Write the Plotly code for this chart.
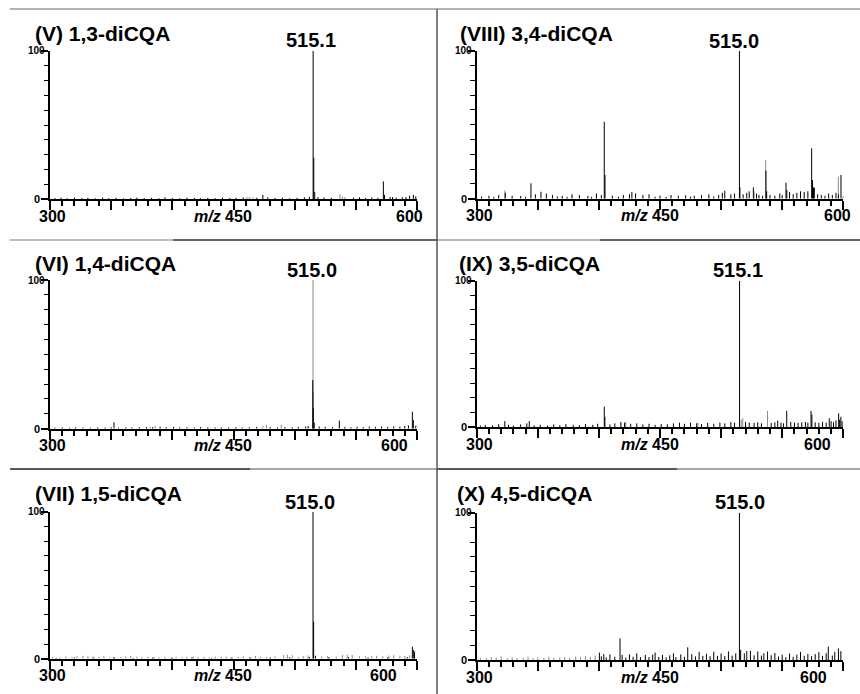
import plotly.graph_objects as go

# ---------------- data ----------------
PANEL_TITLES = ["(V) 1,3-diCQA", "(VIII) 3,4-diCQA", "(VI) 1,4-diCQA",
                "(IX) 3,5-diCQA", "(VII) 1,5-diCQA", "(X) 4,5-diCQA"]
BASE_PEAK_LABELS = ["515.1", "515.0", "515.0", "515.1", "515.0", "515.0"]
X_TICK_LABELS = ["300", "450", "600"]
Y_TICK_LABELS = ["0", "100"]

# (m/z, relative intensity %) — black sticks
V_BLACK = [(515.1, 100), (515.6, 28), (516.4, 5), (572.5, 12), (573.4, 3), (474, 3),
           (594, 2.5), (597, 3), (580, 1.5),
           (304, 0.8), (309, 1.0), (314, 0.7), (320, 1.1), (326, 0.8), (331, 1.0), (337, 0.7),
           (343, 1.2), (348, 0.8), (354, 1.0), (360, 0.7), (366, 0.9), (371, 1.1), (377, 0.8),
           (383, 1.0), (389, 0.7), (394, 1.3), (400, 0.9), (406, 0.8), (412, 1.1), (418, 0.9),
           (423, 0.7), (429, 1.0), (435, 0.8), (441, 1.1), (447, 0.9), (452, 1.0), (458, 1.2),
           (469, 1.0), (478, 1.3), (484, 0.9), (490, 1.1), (496, 0.8), (502, 1.0), (508, 1.3),
           (512, 1.6), (519, 1.5), (524, 1.2), (530, 1.0), (548, 1.1), (553, 1.3), (558, 0.9),
           (563, 1.2), (568, 1.0), (578, 1.6), (583, 1.1), (588, 1.3), (591, 1.5), (599, 2.0)]
V_GREY = [(461, 1.5), (463, 1.5), (466, 1.2), (537, 3.5), (539, 2.0), (541, 1.5)]

VIII_BLACK = [(515.0, 100), (404.4, 52), (405.0, 16), (344.4, 10.4), (352.6, 4.7), (536.7, 19),
              (537.3, 5), (553.1, 10.8), (553.8, 6), (574.1, 34), (574.8, 12.6), (575.6, 7.7),
              (576.3, 7.5), (598.1, 16), (526.4, 7.7), (503, 5.4), (323.4, 4),
              (304, 1.5), (310, 2), (314, 1.2), (318, 2.5), (329, 2), (336, 1.8), (340, 1.2),
              (348, 3), (357, 3.5), (362, 2.5), (366, 1.5), (370, 2), (374, 1.2), (378, 3),
              (384, 2.5), (391, 2), (394, 1.2), (398, 3.5), (402, 2.5), (411, 2), (416, 1.3),
              (420, 2.5), (425, 3), (427, 4.5), (430, 3.5), (436, 2.5), (441, 3), (446, 1.3),
              (450, 2), (455, 1.2), (459, 2.5), (465, 2), (471, 2.3), (475, 1.4), (478, 2),
              (484, 2.5), (490, 3), (494, 1.5), (498, 2.5), (501, 4), (508, 3), (511, 3.5),
              (518, 3), (521, 4), (523, 5), (529, 3.5), (531, 2.5), (534, 2), (540, 2.5),
              (544, 2), (548, 3.5), (550, 2.5), (556, 4.5), (559, 3), (562, 4), (565, 5),
              (568, 4.5), (571, 5), (579, 3), (582, 2.5), (585, 2), (588, 3.5), (591, 2.5),
              (594, 4), (596, 3), (600, 2)]
VIII_GREY = [(515.8, 7.7), (536.5, 26), (595.9, 14.9), (323, 5.5), (527, 5)]

VI_BLACK = [(514.8, 32.7), (515.2, 13.7), (516, 4), (596.2, 11.4), (597, 5.8), (536.5, 5.4),
            (352.3, 4.3),
            (304, 0.7), (310, 0.9), (316, 0.6), (321, 1.0), (327, 0.8), (333, 0.7), (339, 0.9),
            (345, 0.8), (350, 1.0), (356, 0.7), (362, 0.9), (367, 0.8), (373, 1.0), (379, 1.2),
            (384, 1.1), (390, 1.3), (395, 1.0), (401, 1.2), (406, 0.9), (412, 1.0), (418, 0.8),
            (423, 1.1), (429, 0.9), (435, 0.8), (440, 1.0), (446, 0.9), (452, 1.1), (457, 0.8),
            (463, 1.0), (469, 1.2), (480, 1.3), (486, 0.9), (492, 1.1), (498, 1.0), (503, 1.2),
            (509, 1.4), (511, 1.8), (520, 1.5), (525, 1.2), (531, 1.1), (541, 1.2), (546, 1.0),
            (551, 1.3), (556, 1.1), (561, 1.4), (566, 1.2), (571, 1.5), (576, 1.3), (581, 1.6),
            (586, 1.4), (590, 1.8), (593, 2.2), (599, 2.0)]
VI_GREY = [(515.0, 100), (515.4, 25), (382, 1.5), (386, 1.8), (474, 2.0), (477, 2.5), (489, 2.5)]

IX_BLACK = [(515.1, 100), (404.4, 13.9), (404.9, 7), (553.7, 11.1), (573.6, 11), (574.3, 8.5),
            (588.5, 6), (596.2, 9.3), (597, 5), (598, 7), (546.3, 4.4), (323, 4), (343, 4),
            (303, 1), (307, 1.5), (313, 1.2), (318, 2), (326, 1.5), (330, 1), (336, 1.8),
            (341, 2.5), (347, 1.2), (352, 1.5), (358, 1), (363, 1.8), (368, 1.2), (373, 2),
            (379, 1.5), (384, 1.2), (389, 2), (395, 1.5), (399, 2.2), (409, 1.8), (413, 2.5),
            (418, 3.5), (421, 3), (426, 2.2), (431, 2.5), (436, 1.8), (441, 2.2), (446, 1.5),
            (451, 2), (456, 1.8), (461, 2.5), (466, 3), (470, 2.2), (475, 3), (480, 2.5),
            (484, 2), (489, 2.8), (494, 2.2), (499, 3), (503, 2.5), (508, 3.5), (511, 3),
            (520, 3.5), (523, 3), (527, 2.8), (530, 3.2), (533, 2.5), (541, 2.8), (544, 3.2),
            (549, 3), (551, 2.5), (557, 3.5), (560, 3), (563, 2.8), (566, 3.2), (569, 3.5),
            (571, 3), (577, 3.2), (580, 2.8), (583, 3.5), (586, 3), (590, 4), (592, 3.2),
            (594, 4.5), (599, 4)]
IX_GREY = [(538, 11.1), (517.7, 6), (516.5, 5), (422, 3.5), (481, 3.0)]

VII_BLACK = [(515.0, 100), (515.5, 25.2), (596.2, 8.2), (597.3, 5.9), (598, 4.7), (517, 2),
             (305, 0.6), (320, 0.8), (336, 0.7), (352, 0.9), (368, 0.6), (384, 0.8), (400, 0.7),
             (416, 0.9), (432, 0.6), (448, 0.8), (464, 0.7), (480, 0.9), (496, 1.0), (512, 1.2),
             (528, 1.0), (544, 1.1), (560, 0.9), (576, 1.0), (592, 1.2)]
VII_GREY = [(302, 1.2), (308, 1.0), (313, 1.5), (318, 1.1), (322, 1.6), (327, 2.0), (331, 1.8),
            (335, 1.5), (340, 1.2), (344, 1.6), (349, 1.0), (353, 1.3), (358, 1.1), (362, 1.6),
            (366, 2.0), (371, 1.4), (375, 1.1), (380, 1.5), (385, 1.2), (389, 1.0), (394, 1.3),
            (399, 1.1), (403, 1.4), (408, 1.0), (412, 1.2), (417, 1.5), (421, 1.1), (426, 1.3),
            (430, 1.0), (435, 1.4), (440, 1.2), (444, 1.5), (449, 1.1), (454, 1.3), (458, 1.6),
            (463, 1.2), (468, 1.9), (472, 1.4), (477, 1.2), (484, 1.5), (491, 2.5), (494, 2.8),
            (498, 2.4), (503, 1.3), (507, 1.8), (511, 2.2), (522, 1.5), (527, 1.8), (534, 1.4),
            (539, 2.6), (543, 2.7), (547, 2.5), (553, 1.6), (558, 1.5), (563, 1.8), (567, 2.0),
            (572, 1.6), (577, 2.2), (581, 2.4), (586, 2.0), (590, 1.8), (594, 2.3)]

X_BLACK = [(515.0, 100), (417.3, 14.7), (472.7, 8.6), (516, 6.8), (587.7, 9.1), (596, 7.9),
           (446, 5), (400.4, 5), (524, 6.2), (538, 5.7),
           (402, 2.5), (404, 4.0), (406, 1.8), (409, 3.8), (413, 2.2), (419, 3.5), (422, 1.6),
           (425, 3.8), (428, 2.2), (431, 4.6), (434, 1.9), (438, 3.4), (441, 2.0), (444, 3.6),
           (449, 2.1), (452, 3.4), (455, 1.8), (458, 3.2), (461, 4.6), (463, 2.0), (467, 3.8),
           (470, 2.2), (476, 4.0), (479, 2.4), (482, 5.5), (485, 2.8), (488, 4.2), (491, 2.6),
           (494, 5.6), (497, 2.8), (500, 4.4), (503, 2.6), (506, 5.8), (509, 3.0), (512, 4.5),
           (519, 4.5), (521, 6.0), (527, 3.2), (530, 5.8), (533, 3.0), (535, 4.6), (541, 3.2),
           (544, 4.8), (547, 2.4), (550, 3.6), (553, 2.0), (556, 4.4), (559, 2.2), (562, 3.6),
           (565, 5.5), (568, 2.8), (571, 4.2), (574, 2.6), (577, 4.0), (580, 5.4), (583, 2.8),
           (586, 4.6), (591, 3.0), (593, 5.5), (598, 6.0)]
X_GREY = [(303, 1.5), (308, 1.2), (312, 2.0), (316, 1.6), (320, 2.5), (325, 1.3), (329, 1.8),
          (333, 1.2), (338, 1.6), (342, 2.2), (346, 1.3), (350, 1.8), (355, 1.5), (359, 2.3),
          (363, 1.4), (368, 1.8), (372, 2.0), (376, 1.5), (381, 2.4), (385, 2.0), (389, 2.6),
          (393, 2.2), (397, 3.0)]

SPECTRA_BLACK = [V_BLACK, VIII_BLACK, VI_BLACK, IX_BLACK, VII_BLACK, X_BLACK]
SPECTRA_GREY = [V_GREY, VIII_GREY, VI_GREY, IX_GREY, VII_GREY, X_GREY]

X_RANGE = [300, 600]
Y_RANGE = [0, 100]

# ---------------- layout geometry (pixels) ----------------
W, H = 860, 694
FONT = "Liberation Sans, Arial, Helvetica, sans-serif"
# (x_left, x_right, y_of_100, y_of_0)
BOXES = [(50, 417, 50.7, 199.3), (476.7, 843.3, 50.7, 198.7),
         (50, 417, 280.0, 428.7), (476.7, 843.3, 280.7, 427.0),
         (50, 417, 511.7, 658.7), (476.7, 843.3, 512.7, 660.0)]
TITLE_POS = [(33, 33), (458, 33), (33, 263), (457, 263), (33, 493), (455, 493)]
PEAK_POS = [(311, 40), (734, 41), (312, 270), (737.5, 270), (309.5, 501.7), (740, 501.7)]
LABEL600_AT = [594, 595, 582, 579, 573, 576]


def px(x):
    return x / W


def py(y):
    return 1 - y / H


def sticks(peaks):
    xs, ys = [], []
    for m, h in peaks:
        xs += [m, m, None]
        ys += [0, h, None]
    return xs, ys


fig = go.Figure()
annotations = []
shapes = []
layout_axes = {}

for i in range(6):
    n = i + 1
    xa = "x" if n == 1 else f"x{n}"
    ya = "y" if n == 1 else f"y{n}"
    x0, x1, y100, y0 = BOXES[i]
    for peaks, col in ((SPECTRA_GREY[i], "#8a8a8a"), (SPECTRA_BLACK[i], "#000000")):
        xs, ys = sticks(peaks)
        fig.add_trace(go.Scatter(x=xs, y=ys, mode="lines", line=dict(color=col, width=1.0),
                                 xaxis=xa, yaxis=ya, hoverinfo="skip", showlegend=False,
                                 cliponaxis=False))
    layout_axes[("xaxis" if n == 1 else f"xaxis{n}")] = dict(
        domain=[px(x0), px(x1)], range=X_RANGE, anchor=ya,
        showline=True, linecolor="#000000", linewidth=1.6,
        ticks="outside", tickmode="linear", tick0=300, dtick=50,
        ticklen=9, tickwidth=1.8, tickcolor="#000000",
        minor=dict(ticks="outside", tickmode="linear", tick0=300, dtick=10,
                   ticklen=5, tickwidth=1.5, tickcolor="#000000", showgrid=False),
        showticklabels=False, showgrid=False, zeroline=False, fixedrange=True)
    layout_axes[("yaxis" if n == 1 else f"yaxis{n}")] = dict(
        domain=[py(y0), py(y100)], range=Y_RANGE, anchor=xa,
        showline=True, linecolor="#000000", linewidth=1.6,
        ticks="outside", tickmode="array", tickvals=[0, 100],
        ticklen=7, tickwidth=1.6, tickcolor="#000000",
        minor=dict(ticks="outside", tickmode="linear", tick0=0, dtick=10,
                   ticklen=4.5, tickwidth=1.4, tickcolor="#000000", showgrid=False),
        showticklabels=False, showgrid=False, zeroline=False, fixedrange=True)

    # y tick labels (placed tight against the axis as in the original)
    annotations.append(dict(text=f"<b>{Y_TICK_LABELS[1]}</b>", x=px(x0 - 3), y=100,
                            xref="paper", yref=ya, xanchor="right", yanchor="middle",
                            showarrow=False, font=dict(family=FONT, size=10, color="black")))
    annotations.append(dict(text=f"<b>{Y_TICK_LABELS[0]}</b>", x=px(x0 - 8), y=0,
                            xref="paper", yref=ya, xanchor="right", yanchor="middle",
                            showarrow=False, font=dict(family=FONT, size=11, color="black")))

    tx, ty = TITLE_POS[i]
    annotations.append(dict(text=f"<b>{PANEL_TITLES[i]}</b>", x=px(tx), y=py(ty),
                            xref="paper", yref="paper", xanchor="left", yanchor="middle",
                            showarrow=False, font=dict(family=FONT, size=21, color="black")))
    kx, ky = PEAK_POS[i]
    annotations.append(dict(text=f"<b>{BASE_PEAK_LABELS[i]}</b>", x=px(kx), y=py(ky),
                            xref="paper", yref="paper", xanchor="center", yanchor="middle",
                            showarrow=False, font=dict(family=FONT, size=20, color="black")))
    ly = py(y0 + 17)
    annotations.append(dict(text=f"<b>{X_TICK_LABELS[0]}</b>", x=302, y=ly, xref=xa, yref="paper",
                            xanchor="center", yanchor="middle", showarrow=False,
                            font=dict(family=FONT, size=16, color="black")))
    annotations.append(dict(text=f"<b><i>m/z</i> {X_TICK_LABELS[1]}</b>", x=467, y=ly, xref=xa,
                            yref="paper", xanchor="right", yanchor="middle", showarrow=False,
                            font=dict(family=FONT, size=16, color="black")))
    annotations.append(dict(text=f"<b>{X_TICK_LABELS[2]}</b>", x=LABEL600_AT[i], y=ly, xref=xa,
                            yref="paper", xanchor="center", yanchor="middle", showarrow=False,
                            font=dict(family=FONT, size=16, color="black")))


# panel divider lines
def hline(xa_, xb_, y, col):
    shapes.append(dict(type="line", xref="paper", yref="paper", x0=px(xa_), x1=px(xb_),
                       y0=py(y), y1=py(y), line=dict(color=col, width=1.5)))


hline(10, 860, 9, "#9a9a9a")
hline(10, 173, 240, "#a8a8a8")
hline(173, 437, 240, "#333333")
hline(437, 600, 240, "#a0a0a0")
hline(600, 860, 240, "#333333")
hline(10, 250, 469, "#222222")
hline(250, 437, 469, "#8a8a8a")
hline(437, 677, 469, "#222222")
hline(677, 860, 469, "#8a8a8a")
shapes.append(dict(type="line", xref="paper", yref="paper", x0=px(437), x1=px(437),
                   y0=py(9), y1=py(694), line=dict(color="#555555", width=1.5)))

fig.update_layout(width=W, height=H, margin=dict(l=0, r=0, t=0, b=0),
                  paper_bgcolor="white", plot_bgcolor="white",
                  annotations=annotations, shapes=shapes, showlegend=False, **layout_axes)

fig.write_html("out.html")
